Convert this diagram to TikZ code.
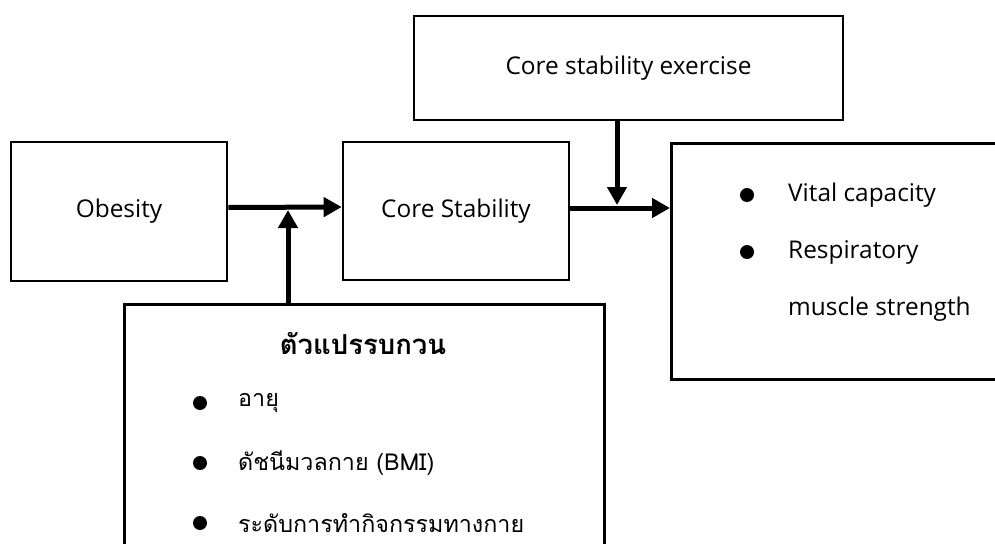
\documentclass[tikz,border=0pt]{standalone}
\usepackage{fontspec}
\setmainfont{Open Sans}
\newfontfamily\thaifont[Script=Thai]{Loma}
\usetikzlibrary{arrows.meta}
\begin{document}
\begin{tikzpicture}[x=1pt,y=-1pt,
  box/.style={draw,line width=2.6pt,inner sep=0pt},
  conn/.style={line width=5pt,-{Triangle[length=18pt,width=19pt]}},
  txt/.style={font=\fontsize{24.4}{29}\selectfont,inner sep=0pt},
  thtxt/.style={font=\fontsize{23.3}{28}\thaifont,inner sep=0pt},
  dot/.style={circle,fill,inner sep=0pt,minimum size=14pt}]
\useasboundingbox (0,0) rectangle (995,543);
\clip (0,0) rectangle (995,543);
\fill[white] (0,0) rectangle (995,543);
% boxes
\node[box,minimum width=216pt,minimum height=139pt] (obesity) at (119,211.5) {};
\node[txt] (obesityT) at (119,211.5) {Obesity};
\node[box,minimum width=226pt,minimum height=138pt] (core) at (456,211) {};
\node[txt] (coreT) at (456,211) {Core Stability};
\node[box,minimum width=429pt,minimum height=104pt] (exercise) at (628.5,68) {};
\node[txt] (exerciseT) at (628.5,68) {Core stability exercise};
\node[box,minimum width=360pt,minimum height=236pt,anchor=north west] (outcome) at (670,142) {};
\node[box,minimum width=480pt,minimum height=280pt,anchor=north west] (confound) at (123,303) {};
% outcome contents
\node[dot] (ob1) at (747,195) {};
\node[dot] (ob2) at (747,252) {};
\node[txt,anchor=west] (ot1) at (788,195) {Vital capacity};
\node[txt,anchor=west] (ot2) at (788,252) {Respiratory};
\node[txt,anchor=west] (ot3) at (788,309) {muscle strength};
% confounder contents
\node[thtxt,font=\fontsize{27.5}{32}\thaifont\bfseries] (ct) at (363,343) {ตัวแปรรบกวน};
\node[dot] (cb1) at (200,403) {};
\node[dot] (cb2) at (200,463) {};
\node[dot] (cb3) at (200,523) {};
\node[thtxt,anchor=west] (c1) at (238,403) {อายุ};
\node[thtxt,anchor=west] (c2) at (238,463) {ดัชนีมวลกาย (BMI)};
\node[thtxt,anchor=west] (c3) at (238,523) {ระดับการทำกิจกรรมทางกาย};
% junction points
\coordinate (j1) at (288,210);
\coordinate (j2) at (617,205);
% connectors
\draw[conn] ([yshift=4pt]obesity.east) -- ([yshift=4pt]core.west);
\draw[conn] ([yshift=3pt]core.east) -- (outcome.west |- 0,208);
\draw[conn] (confound.north -| j1) -- (j1);
\draw[conn] (exercise.south -| j2) -- (j2);
\end{tikzpicture}
\end{document}
